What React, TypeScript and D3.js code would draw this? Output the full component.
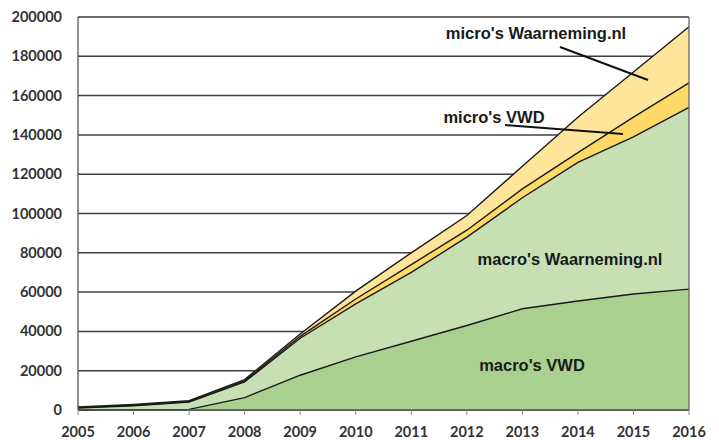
import React from "react";
import * as d3 from "d3";

const years = [2005, 2006, 2007, 2008, 2009, 2010, 2011, 2012, 2013, 2014, 2015, 2016];
const macroVWD = [0, 200, 300, 6300, 17700, 27000, 35000, 43000, 51500, 55500, 59000, 61500];
const macroWaarneming = [1000, 2000, 3700, 8000, 18800, 27000, 35000, 45000, 56500, 70500, 80000, 92500];
const microVWD = [200, 200, 300, 500, 1000, 2500, 4000, 3500, 4500, 5000, 10000, 12500];
const microWaarneming = [300, 400, 400, 700, 1200, 4000, 6000, 7500, 11500, 18000, 23000, 28500];
const yTicks = [0, 20000, 40000, 60000, 80000, 100000, 120000, 140000, 160000, 180000, 200000];

const keys = ["macroVWD", "macroWaarneming", "microVWD", "microWaarneming"];
const colors: Record<string, string> = {
  macroVWD: "#a9d08e",
  macroWaarneming: "#c6e0b4",
  microVWD: "#ffd966",
  microWaarneming: "#ffe599",
};

const width = 719;
const height = 440;
const margin = { top: 17, right: 30, bottom: 30, left: 78 };

const App = () => {
  const rows = years.map((year, i) => ({
    year,
    macroVWD: macroVWD[i],
    macroWaarneming: macroWaarneming[i],
    microVWD: microVWD[i],
    microWaarneming: microWaarneming[i],
  }));
  const series = d3.stack<any>().keys(keys)(rows);

  const x = d3
    .scaleLinear()
    .domain([2005, 2016])
    .range([margin.left, width - margin.right]);
  const y = d3
    .scaleLinear()
    .domain([0, 200000])
    .range([height - margin.bottom, margin.top]);

  const area = d3
    .area<any>()
    .x((d) => x(d.data.year))
    .y0((d) => y(d[0]))
    .y1((d) => y(d[1]));
  const line = d3
    .line<any>()
    .x((d) => x(d.data.year))
    .y((d) => y(d[1]));

  const axisFont = "Lato, 'Open Sans', sans-serif";
  const labelFont = "'Liberation Sans', Arial, sans-serif";

  return (
    <svg
      width={width}
      height={height}
      style={{ position: "absolute", left: 0, top: 0, background: "#fff" }}
    >
      {yTicks.map((t) => (
        <line
          key={t}
          x1={x(2005)}
          x2={x(2016)}
          y1={y(t)}
          y2={y(t)}
          stroke="#3f3f3f"
          strokeWidth={1.5}
        />
      ))}
      {series.map((s) => (
        <path key={s.key} d={area(s) || ""} fill={colors[s.key]} />
      ))}
      {series.map((s) => (
        <path
          key={s.key + "-line"}
          d={line(s) || ""}
          fill="none"
          stroke="#1a1a1a"
          strokeWidth={1.4}
        />
      ))}
      {/* frame */}
      <line x1={x(2005)} x2={x(2016)} y1={y(200000)} y2={y(200000)} stroke="#666" strokeWidth={1.3} />
      <line x1={x(2016)} x2={x(2016)} y1={y(200000)} y2={y(0)} stroke="#666" strokeWidth={1.3} />
      <line x1={x(2005)} x2={x(2005)} y1={y(200000)} y2={y(0)} stroke="#555" strokeWidth={1.3} />
      <line x1={x(2005)} x2={x(2016)} y1={y(0)} y2={y(0)} stroke="#555" strokeWidth={1.3} />
      {years.map((yr) => (
        <line key={yr} x1={x(yr)} x2={x(yr)} y1={y(0)} y2={y(0) + 5} stroke="#888" strokeWidth={1} />
      ))}
      {yTicks.map((t) => (
        <text
          key={t}
          x={62}
          y={y(t)}
          dy="0.35em"
          textAnchor="end"
          fontFamily={axisFont}
          fontWeight={700}
          fontSize={14.5}
          fill="#333"
        >
          {t}
        </text>
      ))}
      {years.map((yr) => (
        <text
          key={yr}
          x={x(yr)}
          y={432}
          dy="0.35em"
          textAnchor="middle"
          fontFamily={axisFont}
          fontWeight={700}
          fontSize={14.5}
          fill="#333"
        >
          {yr}
        </text>
      ))}
      {/* annotations */}
      <g fontFamily={labelFont} fontWeight={700} fontSize={16.5} fill="#1a1a1a">
        <text x={536} y={33} dy="0.35em" textAnchor="middle">micro's Waarneming.nl</text>
        <text x={494} y={117} dy="0.35em" textAnchor="middle">micro's VWD</text>
        <text x={570} y={259} dy="0.35em" textAnchor="middle">macro's Waarneming.nl</text>
        <text x={532} y={365} dy="0.35em" textAnchor="middle">macro's VWD</text>
      </g>
      <line x1={560} y1={47} x2={648} y2={80} stroke="#111" strokeWidth={2} />
      <line x1={505} y1={125} x2={623} y2={134} stroke="#111" strokeWidth={2} />
    </svg>
  );
};

export default App;
